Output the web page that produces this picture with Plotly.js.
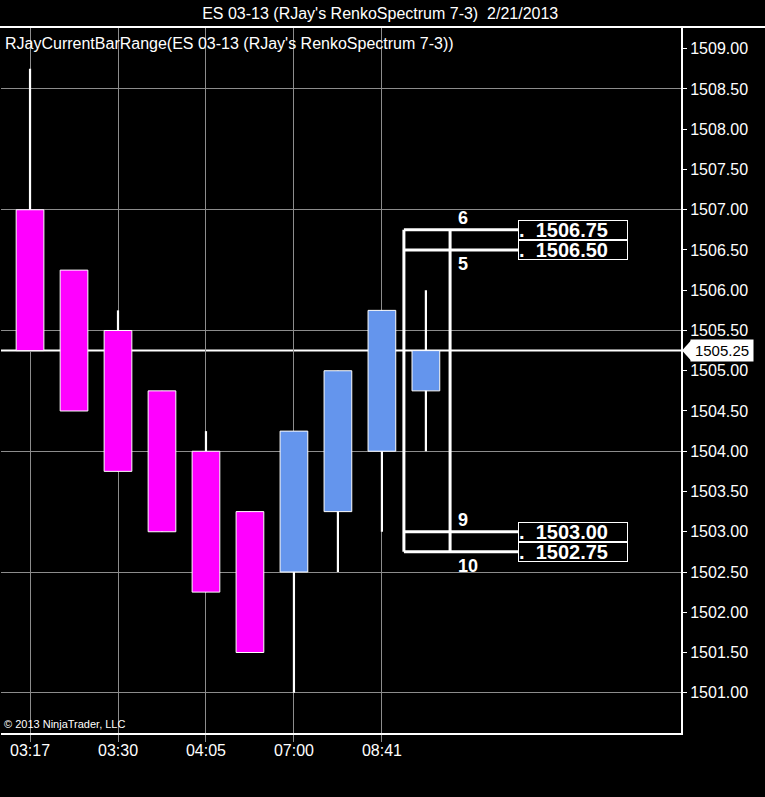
<!DOCTYPE html>
<html>
<head>
<meta charset="utf-8">
<script src="https://cdn.plot.ly/plotly-3.0.1.min.js"></script>
<style>html,body{margin:0;padding:0;background:#000;}#chart{width:765px;height:797px;}</style>
</head>
<body>
<div id="chart"></div>
<script>
// ---- data ----
const barIndex = [0, 1, 2, 3, 4, 5, 6, 7, 8, 9];
const openP  = [1507.00, 1506.25, 1505.50, 1504.75, 1504.00, 1503.25, 1502.50, 1503.25, 1504.00, 1504.75];
const closeP = [1505.25, 1504.50, 1503.75, 1503.00, 1502.25, 1501.50, 1504.25, 1505.00, 1505.75, 1505.25];
const highP  = [1508.75, 1506.25, 1505.75, 1504.75, 1504.25, 1503.25, 1504.25, 1505.00, 1505.75, 1506.00];
const lowP   = [1505.25, 1504.50, 1503.75, 1503.00, 1502.25, 1501.50, 1501.00, 1502.50, 1503.00, 1504.00];
const xTickIdx = [0, 2, 4, 6, 8];
const xTickLabels = ['03:17', '03:30', '04:05', '07:00', '08:41'];
const yTickVals = [1501.00, 1501.50, 1502.00, 1502.50, 1503.00, 1503.50, 1504.00, 1504.50, 1505.00,
                   1505.50, 1506.00, 1506.50, 1507.00, 1507.50, 1508.00, 1508.50, 1509.00];
const yGridVals = [1501.00, 1502.50, 1504.00, 1505.50, 1507.00, 1508.50];
const lastPrice = 1505.25;
const rangeLevels = [1506.75, 1506.50, 1503.00, 1502.75];
const rangeCounts = ['6', '5', '9', '10'];
const rangeX = [8.5, 9.55, 11.1]; // left edge, middle divider, end of level lines
const titleText = "ES 03-13 (RJay's RenkoSpectrum 7-3)  2/21/2013";
const indicatorText = "RJayCurrentBarRange(ES 03-13 (RJay's RenkoSpectrum 7-3))";
const copyrightText = "\u00a9 2013 NinjaTrader, LLC";

const FONT = 'Liberation Sans, Arial, sans-serif';
const UP = '#6495ED', DOWN = '#FF00FF';
const GRID = '#8c8c8c';

// ---- traces ----
const wicks = {
  type: 'bar', x: barIndex,
  base: lowP, y: highP.map((h, i) => h - lowP[i]),
  width: 0.05, marker: {color: '#ffffff', line: {width: 0}},
  hoverinfo: 'skip'
};
const bodies = {
  type: 'bar', x: barIndex,
  base: openP.map((o, i) => Math.min(o, closeP[i])),
  y: openP.map((o, i) => Math.abs(closeP[i] - o)),
  width: 0.63,
  marker: {color: openP.map((o, i) => closeP[i] >= o ? UP : DOWN), line: {color: '#ffffff', width: 1}},
  hoverinfo: 'skip'
};
// range box lines
const rx = [], ry = [];
[rangeX[0], rangeX[1]].forEach(x => { rx.push(x, x, null); ry.push(rangeLevels[0], rangeLevels[3], null); });
rangeLevels.forEach(l => { rx.push(rangeX[0], rangeX[2], null); ry.push(l, l, null); });
const rangeBox = {
  type: 'scatter', mode: 'lines', x: rx, y: ry,
  line: {color: '#ffffff', width: 3}, hoverinfo: 'skip', cliponaxis: false
};
// dummy trace for grid axis
const gridTrace = {type: 'scatter', mode: 'none', x: [rangeX[0]], y: [lastPrice], yaxis: 'y2', hoverinfo: 'skip'};

// ---- annotations ----
const annotations = [];
annotations.push({xref: 'paper', yref: 'paper', x: 0, y: 1, xanchor: 'left', yanchor: 'top', xshift: 3, yshift: -7,
  text: indicatorText, showarrow: false, borderpad: 0, font: {family: FONT, size: 16, color: '#ffffff'}});
annotations.push({xref: 'paper', yref: 'paper', x: 0, y: 0, xanchor: 'left', yanchor: 'bottom', xshift: 2, yshift: 2,
  text: copyrightText, showarrow: false, borderpad: 0, font: {family: FONT, size: 11, color: '#ffffff'}});
rangeLevels.forEach((l, i) => {
  annotations.push({xref: 'x', yref: 'y', x: rangeX[2], y: l, xanchor: 'left', yanchor: 'middle',
    text: '.&nbsp;&nbsp;' + l.toFixed(2), showarrow: false, align: 'left',
    bgcolor: '#000000', bordercolor: '#ffffff', borderwidth: 1, borderpad: 0, width: 108, height: 18,
    font: {family: FONT, size: 20, color: '#ffffff', weight: 'bold'}});
  const above = (i === 0 || i === 2);
  annotations.push({xref: 'x', yref: 'y', x: rangeX[1], y: l, xanchor: 'left', yanchor: above ? 'bottom' : 'top',
    xshift: 7, yshift: above ? 1 : -3, text: '<b>' + rangeCounts[i] + '</b>', showarrow: false, borderpad: 0,
    font: {family: FONT, size: 18, color: '#ffffff'}});
});
annotations.push({xref: 'paper', yref: 'y', x: 1, y: lastPrice, xanchor: 'left', yanchor: 'middle', xshift: 9,
  text: lastPrice.toFixed(2), showarrow: false, bgcolor: '#ffffff', borderpad: 2, width: 58, height: 17,
  font: {family: FONT, size: 15, color: '#000000'}});

const shapes = [
  {type: 'line', layer: 'below', xref: 'paper', yref: 'y', x0: 0, x1: 1, y0: lastPrice, y1: lastPrice,
   line: {color: '#ffffff', width: 2}},
  {type: 'line', xref: 'paper', yref: 'paper', x0: -0.01, x1: 1.13, y0: 1, y1: 1,
   line: {color: '#ffffff', width: 2}},
  {type: 'path', xref: 'paper', yref: 'y', xsizemode: 'pixel', ysizemode: 'pixel', xanchor: 1, yanchor: lastPrice,
   path: 'M1,0 L10,10 L10,-10 Z', fillcolor: '#ffffff', line: {width: 0}}
];

const yRange = [1500.50, 1509.27];
const layout = {
  width: 765, height: 797,
  paper_bgcolor: '#000000', plot_bgcolor: '#000000',
  margin: {l: 1, r: 84, t: 27, b: 64, pad: 0},
  showlegend: false, hovermode: false, barmode: 'overlay',
  font: {family: FONT, color: '#ffffff', size: 15},
  title: {text: titleText, xref: 'container', yref: 'container', x: 0.497, y: 1 - 13 / 797,
          xanchor: 'center', yanchor: 'middle', font: {family: FONT, size: 16, color: '#ffffff'}},
  xaxis: {range: [-0.66, 14.8], tickmode: 'array', tickvals: xTickIdx, ticktext: xTickLabels,
          showgrid: true, gridcolor: GRID, gridwidth: 1, zeroline: false,
          ticks: 'outside', ticklen: 7, tickcolor: GRID, tickwidth: 1, ticklabelstandoff: -5,
          showline: true, linecolor: '#ffffff', linewidth: 2,
          tickfont: {family: FONT, size: 16, color: '#ffffff'}, fixedrange: true},
  yaxis: {range: yRange, side: 'right', tickmode: 'array', tickvals: yTickVals, tickformat: '.2f',
          showgrid: false, zeroline: false, ticks: 'outside', ticklen: 4, tickcolor: '#ffffff',
          showline: true, linecolor: '#ffffff', linewidth: 2,
          tickfont: {family: FONT, size: 16, color: '#ffffff'}, fixedrange: true},
  yaxis2: {range: yRange, overlaying: 'y', side: 'right', anchor: 'x', tickmode: 'array', tickvals: yGridVals,
           showgrid: true, gridcolor: GRID, gridwidth: 1, showticklabels: false, ticks: '',
           zeroline: false, showline: false, fixedrange: true},
  annotations: annotations,
  shapes: shapes
};

Plotly.newPlot('chart', [wicks, bodies, rangeBox, gridTrace], layout, {staticPlot: true, displayModeBar: false});
</script>
</body>
</html>
